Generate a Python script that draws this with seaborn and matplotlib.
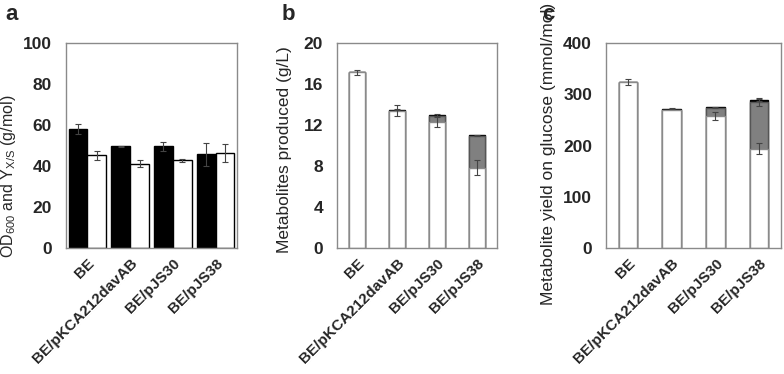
import matplotlib
matplotlib.use("Agg")
import matplotlib.pyplot as plt
import seaborn as sns
import pandas as pd
import numpy as np

sns.set_style("white")
plt.rcParams['font.family'] = ['Liberation Sans', 'DejaVu Sans']

# strains on the x axis
strains = ["BE", "BE/pKCA212davAB", "BE/pJS30", "BE/pJS38"]

# panel a: OD600 (black) and Yx/s (white)
od600 = [58.0, 49.7, 49.6, 45.7]
od600_err = [2.5, 0.3, 2.2, 5.6]
yxs = [45.2, 41.1, 42.7, 46.3]
yxs_err = [2.1, 1.8, 0.7, 4.5]

# panel b: metabolites produced (g/L), stacked white / gray / black
prod_white = [17.15, 13.4, 12.3, 7.85]
prod_white_err = [0.26, 0.55, 0.45, 0.72]
prod_gray = [0.0, 0.0, 0.6, 3.03]
prod_black = [0.0, 0.08, 0.1, 0.1]
prod_top_err = [0.0, 0.05, 0.08, 0.08]

# panel c: metabolite yield on glucose (mmol/mol)
yld_white = [324.0, 270.0, 257.0, 194.0]
yld_white_err = [5.0, 0.0, 8.0, 11.5]
yld_gray = [0.0, 0.0, 15.5, 91.0]
yld_gray_err = [0.0, 0.0, 0.0, 8.0]
yld_black = [0.0, 2.0, 2.0, 4.0]
yld_top_err = [0.0, 1.5, 1.5, 1.5]

spine_col = "#8a8a8a"
err_col = "#444444"

fig = plt.figure(figsize=(7.84, 3.74), dpi=100)
ax_a = fig.add_axes([66/784, 1-248/374, 171/784, 205/374])
ax_b = fig.add_axes([337/784, 1-248/374, 160/784, 205/374])
ax_c = fig.add_axes([606/784, 1-248/374, 175/784, 205/374])


def style_axis(ax, ymax, ystep, ylabel, label_xy, label_size=12.5):
    ax.set_xlim(-0.5, 3.5)
    ax.set_ylim(0, ymax)
    ax.set_yticks(np.arange(0, ymax + 1, ystep))
    ax.set_xticks(range(4))
    ax.set_xticklabels(strains, rotation=45, ha="right", rotation_mode="anchor",
                       fontweight="bold", fontsize=11)
    ax.set_xticks([0.5, 1.5, 2.5], minor=True)
    ax.tick_params(axis="x", which="major", length=0, pad=6)
    ax.tick_params(axis="x", which="minor", direction="in", length=4, color=spine_col)
    ax.tick_params(axis="y", direction="in", length=3, color=spine_col, pad=10)
    for t in ax.get_yticklabels():
        t.set_fontweight("bold")
        t.set_fontsize(12.5)
    for s in ax.spines.values():
        s.set_color(spine_col)
        s.set_linewidth(1)
    ax.set_xlabel("")
    ax.set_ylabel(ylabel, fontsize=label_size)
    ax.yaxis.set_label_coords(*label_xy)


def bar_centers(container):
    return [p.get_x() + p.get_width() / 2 for p in container.patches]


# ---- panel a ----
df_a = pd.DataFrame({
    "strain": strains * 2,
    "value": od600 + yxs,
    "kind": ["OD600"] * 4 + ["Yxs"] * 4,
})
sns.barplot(data=df_a, x="strain", y="value", hue="kind", ax=ax_a,
            palette=["black", "white"], width=0.88, errorbar=None,
            edgecolor=["black"] * 4 + [spine_col] * 4, linewidth=1, legend=False)
for cont, vals, errs in zip(ax_a.containers, [od600, yxs], [od600_err, yxs_err]):
    ax_a.errorbar(bar_centers(cont), vals, yerr=errs, fmt="none",
                  ecolor=err_col, elinewidth=0.8, capsize=2, capthick=0.8)
style_axis(ax_a, 100, 20, r"$\mathregular{OD_{600}}$ and $\mathregular{Y_{X/S}}$ (g/mol)",
           (-0.28, 0.35), label_size=11.5)


# ---- stacked panels ----
def stacked(ax, white, gray, black, errs):
    white = np.array(white)
    mid = white + np.array(gray)
    top = mid + np.array(black)
    sns.barplot(x=strains, y=top, color="black", width=0.42, ax=ax,
                edgecolor="black", linewidth=1, errorbar=None, saturation=1)
    sns.barplot(x=strains, y=mid, color="#808080", width=0.42, ax=ax,
                edgecolor="#555555", linewidth=1, errorbar=None, saturation=1)
    sns.barplot(x=strains, y=white, color="white", width=0.42, ax=ax,
                edgecolor=spine_col, linewidth=1, errorbar=None, saturation=1)
    xs = bar_centers(ax.containers[0])
    for level, err in zip([white, mid, top], errs):
        err = np.array(err)
        keep = err > 0
        ax.errorbar(np.array(xs)[keep], level[keep], yerr=err[keep], fmt="none",
                    ecolor=err_col, elinewidth=0.8, capsize=2, capthick=0.8)


stacked(ax_b, prod_white, prod_gray, prod_black,
        [prod_white_err, [0, 0, 0, 0], prod_top_err])
style_axis(ax_b, 20, 4, "Metabolites produced (g/L)", (-0.28, 0.48))

stacked(ax_c, yld_white, yld_gray, yld_black,
        [yld_white_err, yld_gray_err, yld_top_err])
style_axis(ax_c, 400, 100, "Metabolite yield on glucose (mmol/mol)", (-0.285, 0.46))

for x, letter in [(5, "a"), (282, "b"), (542, "c")]:
    fig.text(x / 784, 1 - 20 / 374, letter, fontsize=16, fontweight="bold")

fig.savefig("out.png", dpi=100)
